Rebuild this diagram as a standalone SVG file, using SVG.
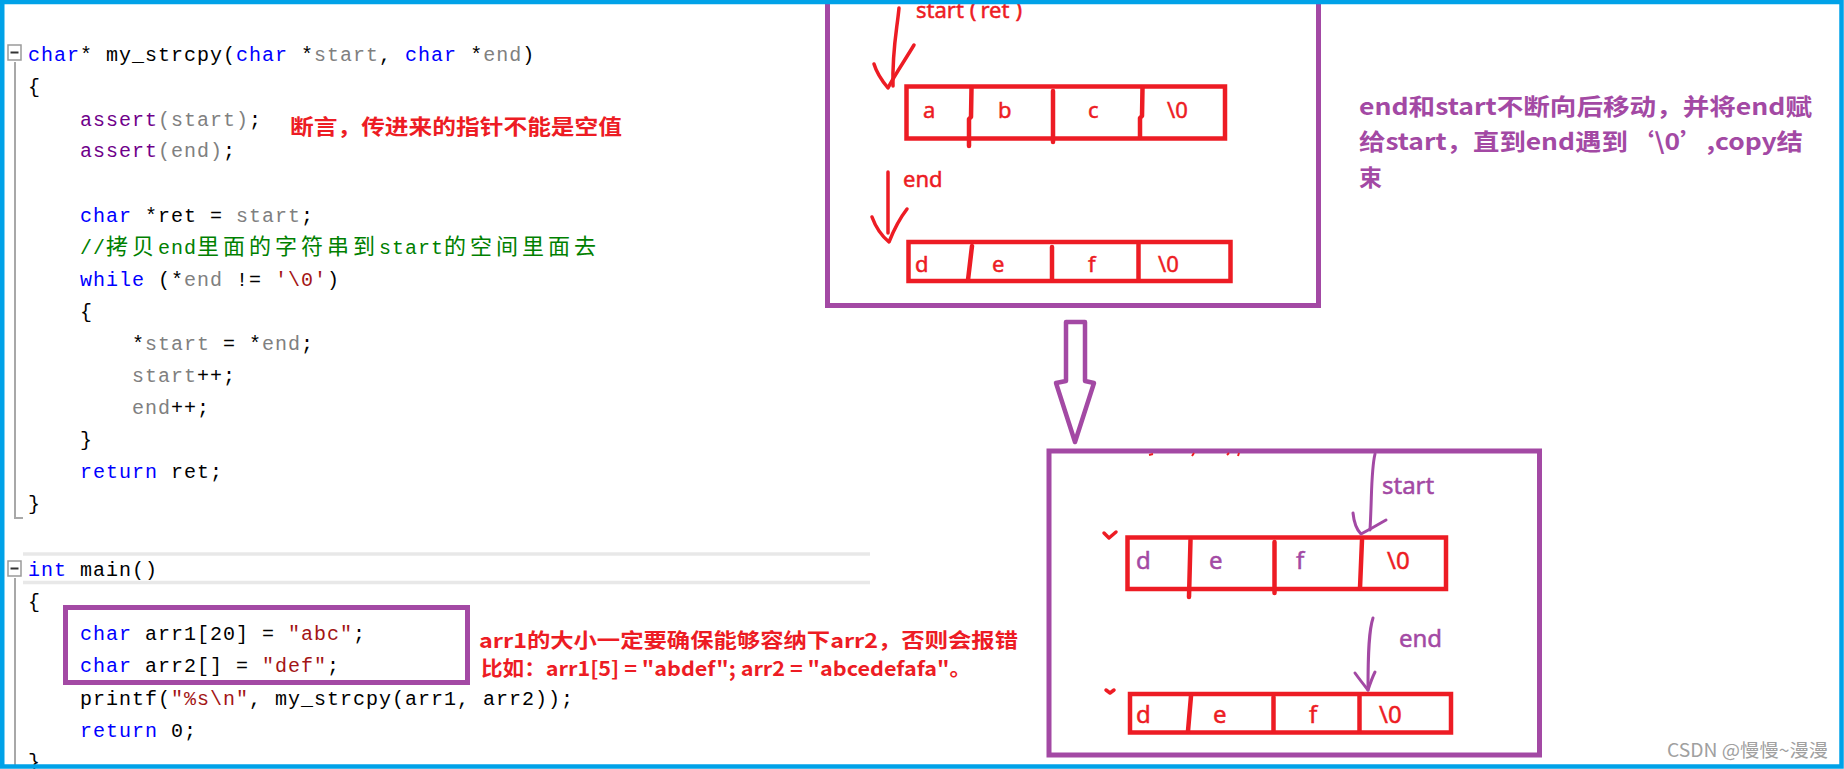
<svg xmlns="http://www.w3.org/2000/svg" width="1844" height="769" viewBox="0 0 1844 769">
<style>
.code{font-family:"Liberation Mono","Noto Sans CJK SC",monospace;font-size:20px;letter-spacing:1px;fill:#000;white-space:pre}
.kw{fill:#0000FF}.id{fill:#808080}.mac{fill:#6F008A}.str{fill:#A31515}.com{fill:#008000}
.cjk{font-family:"Noto Sans CJK SC",sans-serif;font-size:22px;letter-spacing:4px}
.note{font-family:"Noto Sans CJK SC",sans-serif;font-weight:700;fill:#ED1C24}
.pnote{font-family:"Noto Sans CJK SC",sans-serif;font-weight:700;fill:#A349A4;font-size:23px}
.pbox{fill:none;stroke:#A349A4;stroke-width:5}
.arr{fill:none;stroke:#ED1C24;stroke-width:4.5}
.div{fill:none;stroke:#ED1C24;stroke-width:4.5;stroke-linecap:round;stroke-linejoin:round}
.lt{font-family:"Noto Sans","Open Sans",sans-serif;fill:#ED1C24;stroke:#ED1C24;stroke-width:0.5;font-size:22px}
.lt2{font-family:"Noto Sans","Open Sans",sans-serif;fill:#ED1C24;stroke:#ED1C24;stroke-width:0.5;font-size:24px}
.pl{fill:#A349A4;stroke:#A349A4}
.rline{fill:none;stroke:#ED1C24;stroke-width:3.5;stroke-linecap:round;stroke-linejoin:round}
.pline{fill:none;stroke:#A349A4;stroke-width:3;stroke-linecap:round;stroke-linejoin:round}
.gutter{stroke:#A8A8A8;stroke-width:2;fill:none}
</style>
<rect width="1844" height="769" fill="#fff"/>

<g id="code-editor">
  <line x1="23" y1="554" x2="870" y2="554" stroke="#E8E8E8" stroke-width="3.5"/>
  <line x1="23" y1="582.5" x2="870" y2="582.5" stroke="#E8E8E8" stroke-width="3.5"/>
  <rect x="8" y="45" width="13" height="15" fill="#fff" stroke="#9A9A9A" stroke-width="1.5"/>
  <line x1="10.5" y1="52.5" x2="18.5" y2="52.5" stroke="#333" stroke-width="2"/>
  <polyline class="gutter" points="15,62 15,518 23,518"/>
  <rect x="8" y="561" width="13" height="15" fill="#fff" stroke="#9A9A9A" stroke-width="1.5"/>
  <line x1="10.5" y1="568.5" x2="18.5" y2="568.5" stroke="#333" stroke-width="2"/>
  <line class="gutter" x1="15" y1="578" x2="15" y2="766"/>

  <text class="code" x="28" y="61"><tspan class="kw">char</tspan>* my_strcpy(<tspan class="kw">char</tspan> *<tspan class="id">start</tspan>, <tspan class="kw">char</tspan> *<tspan class="id">end</tspan>)</text>
  <text class="code" x="28" y="93">{</text>
  <text class="code" x="80" y="126"><tspan class="mac">assert</tspan><tspan class="id">(start)</tspan>;</text>
  <text class="code" x="80" y="157"><tspan class="mac">assert</tspan><tspan class="id">(end)</tspan>;</text>
  <text class="code" x="80" y="222"><tspan class="kw">char</tspan> *ret = <tspan class="id">start</tspan>;</text>
  <text class="code com" y="254"><tspan x="80">//</tspan><tspan x="106" class="cjk">拷贝</tspan><tspan x="158">end</tspan><tspan x="197" class="cjk">里面的字符串到</tspan><tspan x="379">start</tspan><tspan x="444" class="cjk">的空间里面去</tspan></text>
  <text class="code" x="80" y="286"><tspan class="kw">while</tspan> (*<tspan class="id">end</tspan> != <tspan class="str">'\0'</tspan>)</text>
  <text class="code" x="80" y="318">{</text>
  <text class="code" x="132" y="350">*<tspan class="id">start</tspan> = *<tspan class="id">end</tspan>;</text>
  <text class="code" x="132" y="382"><tspan class="id">start</tspan>++;</text>
  <text class="code" x="132" y="414"><tspan class="id">end</tspan>++;</text>
  <text class="code" x="80" y="446">}</text>
  <text class="code" x="80" y="478"><tspan class="kw">return</tspan> ret;</text>
  <text class="code" x="28" y="510">}</text>

  <text class="code" x="28" y="576"><tspan class="kw">int</tspan> main()</text>
  <text class="code" x="28" y="608">{</text>
  <text class="code" x="80" y="640"><tspan class="kw">char</tspan> arr1[20] = <tspan class="str">"abc"</tspan>;</text>
  <text class="code" x="80" y="672"><tspan class="kw">char</tspan> arr2[] = <tspan class="str">"def"</tspan>;</text>
  <text class="code" x="80" y="705">printf(<tspan class="str">"%s\n"</tspan>, my_strcpy(arr1, arr2));</text>
  <text class="code" x="80" y="737"><tspan class="kw">return</tspan> 0;</text>
  <text class="code" x="28" y="768">}</text>
</g>

<g id="highlight-box">
  <rect class="pbox" x="65.5" y="607.5" width="402" height="75" stroke-width="4"/>
</g>

<g id="note-assert">
  <text class="note" x="290" y="134" font-size="21" textLength="332" lengthAdjust="spacingAndGlyphs">断言，传进来的指针不能是空值</text>
</g>

<g id="note-size">
  <text class="note" x="479" y="648" font-size="20" textLength="539" lengthAdjust="spacingAndGlyphs">arr1的大小一定要确保能够容纳下arr2，否则会报错</text>
  <text class="note" x="481" y="676" font-size="20" textLength="490" lengthAdjust="spacingAndGlyphs">比如：arr1[5] = "abdef"; arr2 = "abcedefafa"。</text>
</g>

<g id="before-box">
  <rect class="pbox" x="827.5" y="-20" width="491" height="325.5"/>
  <text class="lt" x="916" y="18">start<tspan dx="6">(</tspan><tspan dx="4">ret</tspan><tspan dx="6">)</tspan></text>
  <text class="lt" x="903" y="187">end</text>
</g>

<g id="array-abc">
  <rect class="arr" x="906.5" y="86.5" width="318.5" height="52"/>
  <path class="div" d="M971.5,88 L971,117 L969,119 L969,146"/>
  <path class="div" d="M1053,91 V142"/>
  <path class="div" d="M1142.5,88 L1142,116 L1140,118 L1140,137"/>
  <text class="lt" x="923" y="118">a</text>
  <text class="lt" x="998" y="118">b</text>
  <text class="lt" x="1088" y="118">c</text>
  <text class="lt" x="1167" y="118">\0</text>
</g>

<g id="array-def">
  <rect class="arr" x="908.5" y="242" width="322" height="39"/>
  <path class="div" d="M972,246 L968,280"/>
  <path class="div" d="M1052,247 V280"/>
  <path class="div" d="M1138.5,243 V280"/>
  <text class="lt" x="915" y="271.5">d</text>
  <text class="lt" x="992" y="271.5">e</text>
  <text class="lt" x="1088" y="271.5">f</text>
  <text class="lt" x="1158" y="271.5">\0</text>
</g>

<g id="note-move">
  <text class="pnote" x="1359" y="115" textLength="453" lengthAdjust="spacingAndGlyphs">end和start不断向后移动，并将end赋</text>
  <text class="pnote" x="1359" y="150" textLength="444" lengthAdjust="spacingAndGlyphs">给start，直到end遇到‘\0’,copy结</text>
  <text class="pnote" x="1359" y="186">束</text>
</g>

<g id="after-box">
  <rect class="pbox" x="1049" y="451" width="490.5" height="304"/>
  <path d="M1149,455 l4,-1 M1192,456 l2,-3 M1227,455 l2,-2 M1238,456 l1,-3" stroke="#ED1C24" stroke-width="2" fill="none"/>
  <path class="rline" d="M1104,533 L1109,538 L1116,532" stroke-width="2.5"/>
  <path class="rline" d="M1106,690 L1110,693 L1114,690" stroke-width="2.5"/>
  <text class="lt2 pl" x="1382" y="494">start</text>
  <text class="lt2 pl" x="1399" y="647">end</text>
</g>

<g id="array-moved-1">
  <rect class="arr" x="1127.5" y="537.5" width="318.5" height="51.5" stroke-width="5"/>
  <path class="div" stroke-width="5" d="M1190.5,540 L1189,597"/>
  <path class="div" stroke-width="5" d="M1274.5,542 V593"/>
  <path class="div" stroke-width="5" d="M1362,540 L1360,588"/>
  <text class="lt2 pl" x="1136" y="569">d</text>
  <text class="lt2 pl" x="1209" y="569">e</text>
  <text class="lt2 pl" x="1296" y="569">f</text>
  <text class="lt2" x="1387" y="569">\0</text>
</g>

<g id="array-moved-2">
  <rect class="arr" x="1130" y="694" width="321" height="38.5" stroke-width="5"/>
  <path class="div" stroke-width="5" d="M1191,696 L1188,731"/>
  <path class="div" stroke-width="5" d="M1273.5,697 V731"/>
  <path class="div" stroke-width="5" d="M1359.5,696 V731"/>
  <text class="lt2" x="1136" y="723">d</text>
  <text class="lt2" x="1213" y="723">e</text>
  <text class="lt2" x="1309" y="723">f</text>
  <text class="lt2" x="1379" y="723">\0</text>
</g>

<g id="connectors">
  <path class="rline" d="M899,8 C897,30 892,50 893,86"/>
  <path class="rline" d="M874,64 C877,74 883,82 888,88 C894,76 905,60 914,45"/>
  <path class="rline" d="M888,172 L888,233"/>
  <path class="rline" d="M872,217 C876,228 883,237 889,242 C893,232 900,218 907,209"/>
  <path d="M1066,322 H1085 V381 L1094,383 L1075,442 L1056,383 L1066,381 Z" fill="#fff" stroke="#A349A4" stroke-width="4.5" stroke-linejoin="round"/>
  <path class="pline" d="M1375,454 C1371,470 1372,495 1370,530"/>
  <path class="pline" d="M1353,513 C1354,523 1357,530 1361,534 L1372,528 L1386,520"/>
  <path class="pline" d="M1373,618 C1369,630 1368,650 1368,690"/>
  <path class="pline" d="M1355,673 C1360,680 1364,685 1368,690 C1370,684 1372,678 1375,672"/>
</g>

<g id="watermark">
  <text x="1667" y="757" font-family="'Noto Sans CJK SC',sans-serif" font-size="18.5" fill="#A0A0A0" textLength="161" lengthAdjust="spacingAndGlyphs">CSDN @慢慢~漫漫</text>
</g>

<rect id="frame" x="2.25" y="2" width="1839.25" height="764.5" fill="none" stroke="#00A2E8" stroke-width="4.5"/>
</svg>
